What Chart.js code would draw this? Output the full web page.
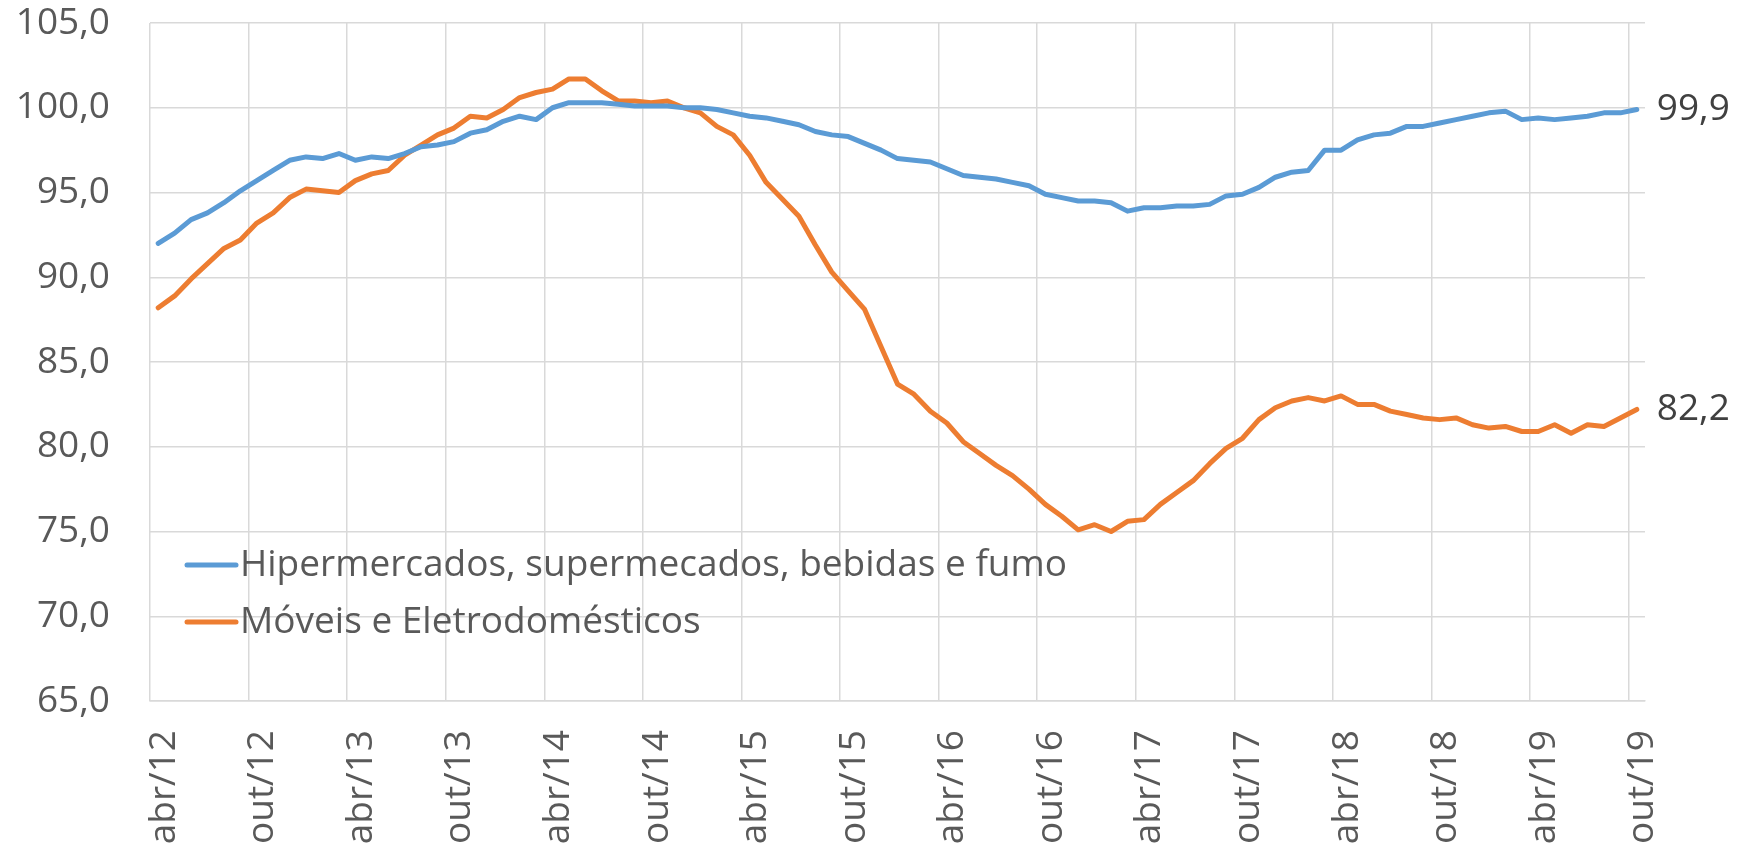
<!DOCTYPE html>
<html>
<head>
<meta charset="utf-8">
<script src="https://cdn.jsdelivr.net/npm/chart.js@4.4.1/dist/chart.umd.min.js"></script>
<style>
  html, body { margin: 0; padding: 0; background: #ffffff; }
  #wrap { width: 1752px; height: 851px; }
</style>
</head>
<body>
<div id="wrap"><canvas id="myChart"></canvas></div>
<script>
// Monthly categories, abr/12 .. out/19
const months = [
    'abr/12', 'mai/12', 'jun/12', 'jul/12', 'ago/12', 'set/12', 'out/12', 'nov/12', 'dez/12',
    'jan/13', 'fev/13', 'mar/13', 'abr/13', 'mai/13', 'jun/13', 'jul/13', 'ago/13', 'set/13', 'out/13', 'nov/13', 'dez/13',
    'jan/14', 'fev/14', 'mar/14', 'abr/14', 'mai/14', 'jun/14', 'jul/14', 'ago/14', 'set/14', 'out/14', 'nov/14', 'dez/14',
    'jan/15', 'fev/15', 'mar/15', 'abr/15', 'mai/15', 'jun/15', 'jul/15', 'ago/15', 'set/15', 'out/15', 'nov/15', 'dez/15',
    'jan/16', 'fev/16', 'mar/16', 'abr/16', 'mai/16', 'jun/16', 'jul/16', 'ago/16', 'set/16', 'out/16', 'nov/16', 'dez/16',
    'jan/17', 'fev/17', 'mar/17', 'abr/17', 'mai/17', 'jun/17', 'jul/17', 'ago/17', 'set/17', 'out/17', 'nov/17', 'dez/17',
    'jan/18', 'fev/18', 'mar/18', 'abr/18', 'mai/18', 'jun/18', 'jul/18', 'ago/18', 'set/18', 'out/18', 'nov/18', 'dez/18',
    'jan/19', 'fev/19', 'mar/19', 'abr/19', 'mai/19', 'jun/19', 'jul/19', 'ago/19', 'set/19', 'out/19'
];

// Hipermercados, supermecados, bebidas e fumo
const hiper = [
    92.0, 92.6, 93.4, 93.8, 94.4, 95.1, 95.7, 96.3, 96.9, 97.1, 97.0, 97.3,
    96.9, 97.1, 97.0, 97.3, 97.7, 97.8, 98.0, 98.5, 98.7, 99.2, 99.5, 99.3,
    100.0, 100.3, 100.3, 100.3, 100.2, 100.1, 100.1, 100.1, 100.0, 100.0, 99.9, 99.7,
    99.5, 99.4, 99.2, 99.0, 98.6, 98.4, 98.3, 97.9, 97.5, 97.0, 96.9, 96.8,
    96.4, 96.0, 95.9, 95.8, 95.6, 95.4, 94.9, 94.7, 94.5, 94.5, 94.4, 93.9,
    94.1, 94.1, 94.2, 94.2, 94.3, 94.8, 94.9, 95.3, 95.9, 96.2, 96.3, 97.5,
    97.5, 98.1, 98.4, 98.5, 98.9, 98.9, 99.1, 99.3, 99.5, 99.7, 99.8, 99.3,
    99.4, 99.3, 99.4, 99.5, 99.7, 99.7, 99.9
];

// Móveis e Eletrodomésticos
const moveis = [
    88.2, 88.9, 89.9, 90.8, 91.7, 92.2, 93.2, 93.8, 94.7, 95.2, 95.1, 95.0,
    95.7, 96.1, 96.3, 97.2, 97.8, 98.4, 98.8, 99.5, 99.4, 99.9, 100.6, 100.9,
    101.1, 101.7, 101.7, 101.0, 100.4, 100.4, 100.3, 100.4, 100.0, 99.7, 98.9, 98.4,
    97.2, 95.6, 94.6, 93.6, 91.9, 90.3, 89.2, 88.1, 85.9, 83.7, 83.1, 82.1,
    81.4, 80.3, 79.6, 78.9, 78.3, 77.5, 76.6, 75.9, 75.1, 75.4, 75.0, 75.6,
    75.7, 76.6, 77.3, 78.0, 79.0, 79.9, 80.5, 81.6, 82.3, 82.7, 82.9, 82.7,
    83.0, 82.5, 82.5, 82.1, 81.9, 81.7, 81.6, 81.7, 81.3, 81.1, 81.2, 80.9,
    80.9, 81.3, 80.8, 81.3, 81.2, 81.7, 82.2
];

const seriesNames = ['Hipermercados, supermecados, bebidas e fumo', 'Móveis e Eletrodomésticos'];
const seriesColors = ['#5B9BD5', '#ED7D31'];

const fmt = v => v.toFixed(1).replace('.', ',');

Chart.defaults.font.family = '"Open Sans", sans-serif';
Chart.defaults.font.size = 37;
Chart.defaults.color = '#595959';

// legend inside the plot + value label at the end of each line
const extraText = {
    id: 'extraText',
    afterDatasetsDraw(chart) {
        const ctx = chart.ctx;
        const area = chart.chartArea;
        ctx.save();
        ctx.font = '37px "Open Sans", sans-serif';
        ctx.textBaseline = 'middle';
        ctx.textAlign = 'left';
        chart.data.datasets.forEach((ds, i) => {
            const meta = chart.getDatasetMeta(i);
            const last = meta.data[meta.data.length - 1];
            ctx.fillStyle = '#404040';
            ctx.fillText(fmt(ds.data[ds.data.length - 1]), last.x + 20, last.y);

            const ly = area.bottom - 136 + i * 57;
            const lx = area.left + 37;
            ctx.strokeStyle = ds.borderColor;
            ctx.lineWidth = 5;
            ctx.lineCap = 'round';
            ctx.beginPath();
            ctx.moveTo(lx, ly);
            ctx.lineTo(lx + 49, ly);
            ctx.stroke();
            ctx.fillStyle = '#595959';
            ctx.fillText(ds.label, lx + 53, ly);
        });
        ctx.restore();
    }
};

const ctx = document.getElementById('myChart').getContext('2d');

new Chart(ctx, {
    type: 'line',
    data: {
        labels: months,
        datasets: [
            {
                label: seriesNames[0],
                data: hiper,
                borderColor: seriesColors[0],
                backgroundColor: seriesColors[0],
                borderWidth: 5,
                pointRadius: 0,
                tension: 0,
                borderJoinStyle: 'round',
                borderCapStyle: 'round'
            },
            {
                label: seriesNames[1],
                data: moveis,
                borderColor: seriesColors[1],
                backgroundColor: seriesColors[1],
                borderWidth: 5,
                pointRadius: 0,
                tension: 0,
                borderJoinStyle: 'round',
                borderCapStyle: 'round'
            }
        ]
    },
    options: {
        responsive: true,
        maintainAspectRatio: false,
        animation: false,
        layout: {
            padding: { top: 23, right: 107, left: 0, bottom: 0 }
        },
        scales: {
            x: {
                offset: true,
                afterFit: scale => { scale.height = 150; },
                grid: {
                    offset: true,
                    drawTicks: false,
                    color: c => (c.index % 6 === 0 ? '#D9D9D9' : 'rgba(0,0,0,0)'),
                    lineWidth: 1.5
                },
                border: { color: '#D9D9D9', width: 1.5 },
                ticks: {
                    autoSkip: false,
                    minRotation: 90,
                    maxRotation: 90,
                    padding: 29,
                    labelOffset: 6,
                    color: '#595959',
                    callback: (val, i) => (i % 6 === 0 ? months[i] : '')
                }
            },
            y: {
                min: 65,
                max: 105,
                afterFit: scale => {
                    scale.width = 150;
                    // tick padding shouldn't push the plot down
                    scale.paddingTop = 0;
                    scale.paddingBottom = 0;
                },
                grid: {
                    drawTicks: false,
                    color: '#D9D9D9',
                    lineWidth: 1.5
                },
                border: { display: false },
                ticks: {
                    stepSize: 5,
                    padding: 40,
                    color: '#595959',
                    callback: v => fmt(v)
                }
            }
        },
        plugins: {
            legend: { display: false },
            tooltip: { enabled: false }
        }
    },
    plugins: [extraText]
});
</script>
</body>
</html>
